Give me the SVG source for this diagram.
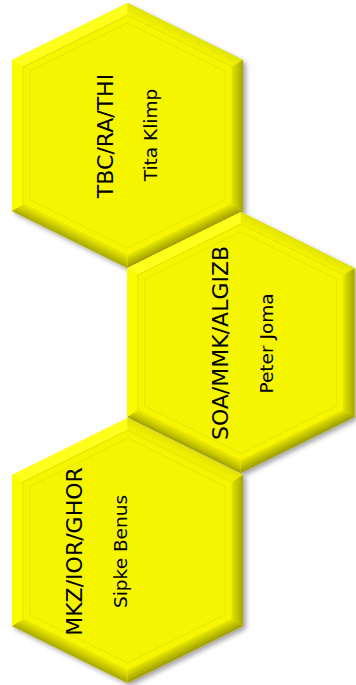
<svg xmlns="http://www.w3.org/2000/svg" xmlns:xlink="http://www.w3.org/1999/xlink" width="356" height="685" viewBox="0 0 356 685">
<style>
  .t1 { font-family: "DejaVu Sans", Verdana, sans-serif; font-size: 22px; fill: #000; text-anchor: middle; }
  .t2 { font-family: "DejaVu Sans", Verdana, sans-serif; font-size: 18.5px; fill: #000; text-anchor: middle; }
</style>
<defs>
  <filter id="blur" x="-10%" y="-10%" width="120%" height="120%">
    <feGaussianBlur stdDeviation="2.5"/>
  </filter>
  <linearGradient id="gR" gradientUnits="userSpaceOnUse" x1="220" y1="0" x2="231" y2="0">
    <stop offset="0" stop-color="#E2E200"/>
    <stop offset="1" stop-color="#A6A600"/>
  </linearGradient>
  <linearGradient id="gBR" gradientUnits="userSpaceOnUse" x1="167.75" y1="226.9" x2="172.6" y2="236.76">
    <stop offset="0" stop-color="#E4E400"/>
    <stop offset="1" stop-color="#9C9C00"/>
  </linearGradient>
  <linearGradient id="gBL" gradientUnits="userSpaceOnUse" x1="63.25" y1="226.9" x2="58.4" y2="236.76">
    <stop offset="0" stop-color="#EAEA00"/>
    <stop offset="1" stop-color="#A8A800"/>
  </linearGradient>
  <linearGradient id="gTR" gradientUnits="userSpaceOnUse" x1="167.75" y1="38.1" x2="172.6" y2="28.2">
    <stop offset="0" stop-color="#F4F400"/>
    <stop offset="1" stop-color="#E2E200"/>
  </linearGradient>
  <g id="hex">
    <polygon points="115.5,0 231,57 231,208 115.5,265 0,208 0,57" transform="translate(3,3)" fill="#000" opacity="0.35" filter="url(#blur)"/>
    <polygon points="115.5,0 231,57 231,208 115.5,265 0,208 0,57" fill="#F2F200"/>
    <polygon points="0,57 115.5,0 115.5,12.27 11,63.84" fill="#FFFF1E"/>
    <polygon points="115.5,0 231,57 220,63.84 115.5,12.27" fill="url(#gTR)"/>
    <polygon points="231,57 231,208 220,201.16 220,63.84" fill="url(#gR)"/>
    <polygon points="231,208 115.5,265 115.5,252.73 220,201.16" fill="url(#gBR)"/>
    <polygon points="115.5,265 0,208 11,201.16 115.5,252.73" fill="url(#gBL)"/>
    <polygon points="0,208 0,57 11,63.84 11,201.16" fill="#FAFA00"/>
    <polygon points="115.5,12.27 220,63.84 220,201.16 115.5,252.73 11,201.16 11,63.84" fill="#F5F500" stroke="#DCDC00" stroke-width="0.8"/>
    <polygon points="115.5,20.07 213,68.19 213,196.81 115.5,244.93 18,196.81 18,68.19" fill="none" stroke="#E6E600" stroke-width="1"/>
  </g>
</defs>
<g id="node-tbc">
  <use xlink:href="#hex" href="#hex" transform="translate(12,3)"/>
  <text class="t1" transform="translate(113,136) rotate(-90)">TBC/RA/THI</text>
  <text class="t2" transform="translate(157,135) rotate(-90)">Tita Klimp</text>
</g>
<g id="node-soa">
  <use xlink:href="#hex" href="#hex" transform="translate(127,212) scale(0.985)"/>
  <text class="t1" transform="translate(228,343) rotate(-90)">SOA/MMK/ALGIZB</text>
  <text class="t2" transform="translate(273,343.5) rotate(-90)">Peter Joma</text>
</g>
<g id="node-mkz">
  <use xlink:href="#hex" href="#hex" transform="translate(12,418)"/>
  <text class="t1" transform="translate(82,551.5) rotate(-90)">MKZ/IOR/GHOR</text>
  <text class="t2" transform="translate(127,551.5) rotate(-90)">Sipke Benus</text>
</g>
<g id="connectors"></g>
</svg>
